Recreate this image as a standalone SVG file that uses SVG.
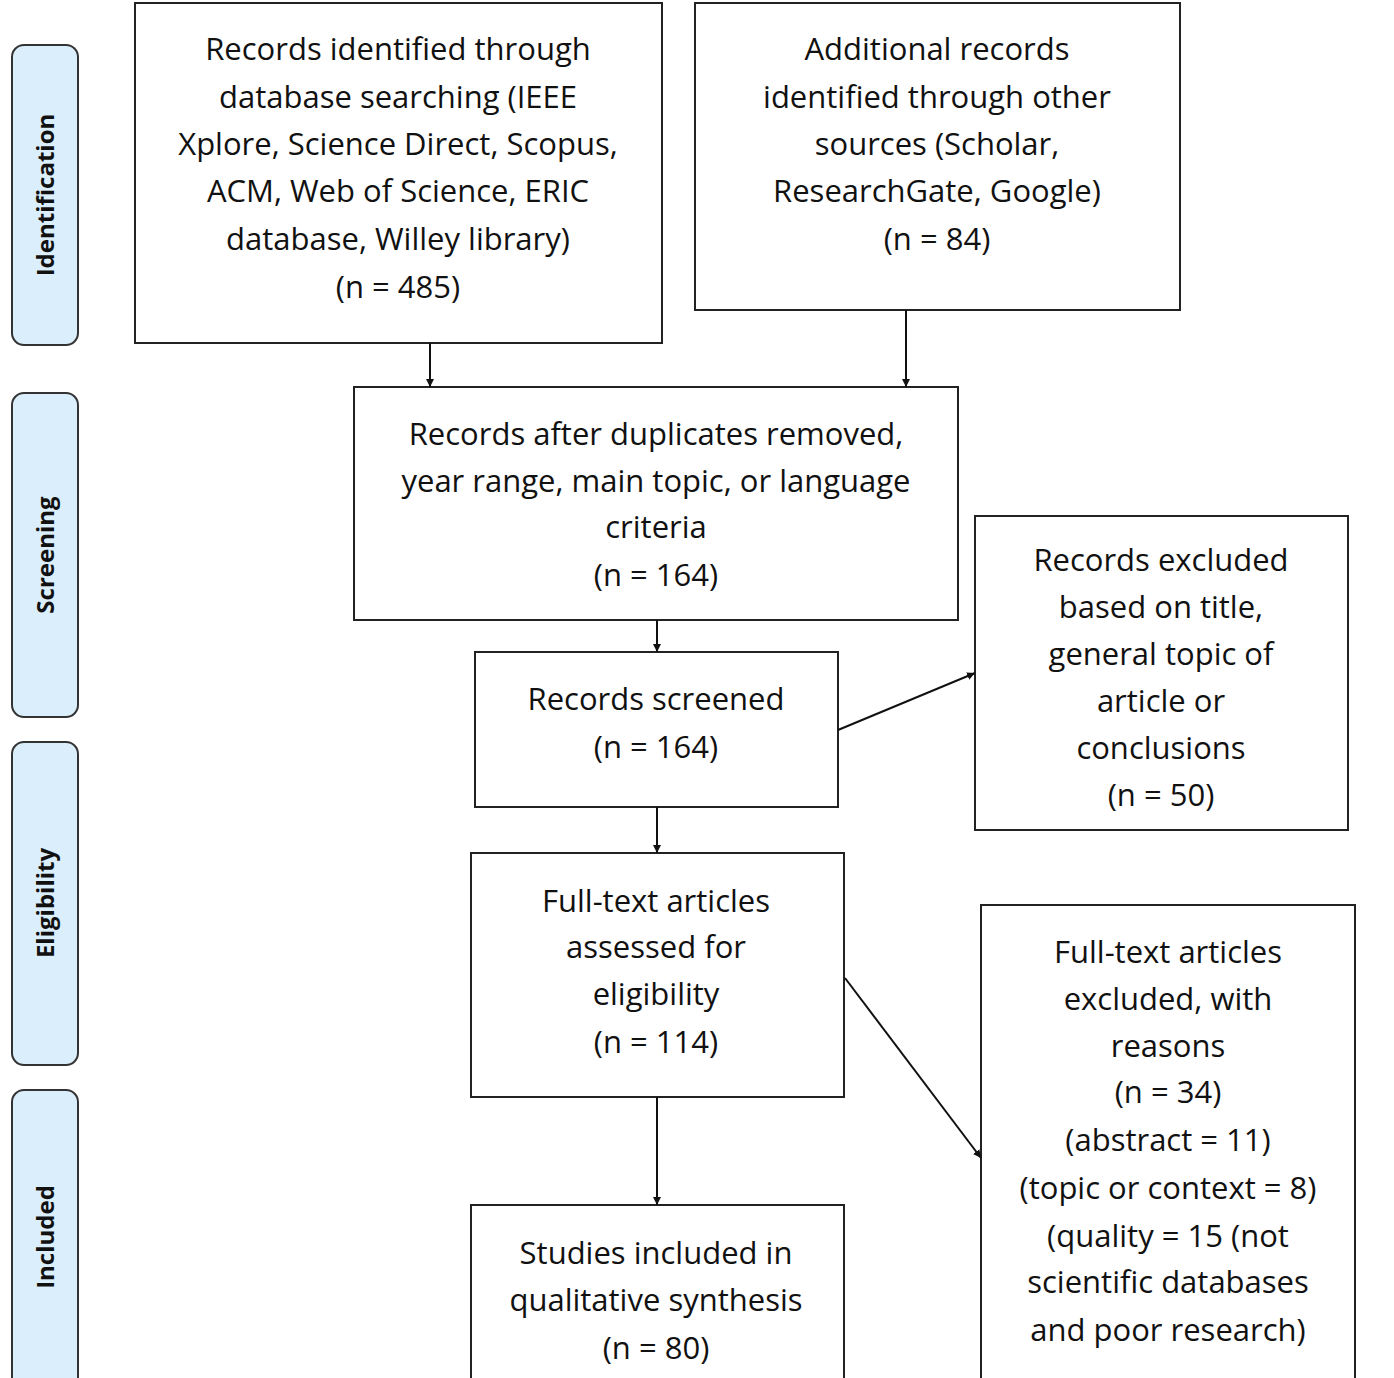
<svg xmlns="http://www.w3.org/2000/svg" width="1394" height="1378" viewBox="0 0 1394 1378">
<defs>
<style>
.b{fill:#fff;stroke:#222;stroke-width:2}
.s{fill:#dbeefb;stroke:#333;stroke-width:2}
.t{font-family:"Open Sans",sans-serif;font-size:31px;fill:#111;text-anchor:middle}
.st{font-family:"Open Sans",sans-serif;font-size:24px;font-weight:bold;fill:#111;text-anchor:middle}
.c{stroke:#111;stroke-width:2;fill:none;marker-end:url(#a)}
</style>
<marker id="a" viewBox="0 0 10 10" refX="10" refY="5" markerWidth="8" markerHeight="8" orient="auto" markerUnits="userSpaceOnUse"><path d="M0,0L10,5L0,10z" fill="#111"/></marker>
</defs>
<rect width="1394" height="1378" fill="#fff"/>
<g id="stages">
<rect class="s" x="12" y="45" width="66" height="300" rx="12"/>
<text class="st" transform="translate(54,195) rotate(-90)">Identification</text>
<rect class="s" x="12" y="393" width="66" height="324" rx="12"/>
<text class="st" transform="translate(54,555) rotate(-90)">Screening</text>
<rect class="s" x="12" y="742" width="66" height="323" rx="12"/>
<text class="st" transform="translate(54,903) rotate(-90)">Eligibility</text>
<rect class="s" x="12" y="1090" width="66" height="310" rx="12"/>
<text class="st" transform="translate(54,1237) rotate(-90)">Included</text>
</g>
<g id="n1"><rect class="b" x="135" y="3" width="527" height="340"/>
<text class="t"><tspan x="398" y="60">Records identified through</tspan><tspan x="398" y="108">database searching (IEEE</tspan><tspan x="398" y="155">Xplore, Science Direct, Scopus,</tspan><tspan x="398" y="202">ACM, Web of Science, ERIC</tspan><tspan x="398" y="250">database, Willey library)</tspan><tspan x="398" y="298">(n = 485)</tspan></text></g>
<g id="n2"><rect class="b" x="695" y="3" width="485" height="307"/>
<text class="t"><tspan x="937" y="60">Additional records</tspan><tspan x="937" y="108">identified through other</tspan><tspan x="937" y="155">sources (Scholar,</tspan><tspan x="937" y="202">ResearchGate, Google)</tspan><tspan x="937" y="250">(n = 84)</tspan></text></g>
<g id="n3"><rect class="b" x="354" y="387" width="604" height="233"/>
<text class="t"><tspan x="656" y="445">Records after duplicates removed,</tspan><tspan x="656" y="492">year range, main topic, or language</tspan><tspan x="656" y="538">criteria</tspan><tspan x="656" y="586">(n = 164)</tspan></text></g>
<g id="n4"><rect class="b" x="475" y="652" width="363" height="155"/>
<text class="t"><tspan x="656" y="710">Records screened</tspan><tspan x="656" y="758">(n = 164)</tspan></text></g>
<g id="n5"><rect class="b" x="975" y="516" width="373" height="314"/>
<text class="t"><tspan x="1161" y="571">Records excluded</tspan><tspan x="1161" y="618">based on title,</tspan><tspan x="1161" y="665">general topic of</tspan><tspan x="1161" y="712">article or</tspan><tspan x="1161" y="759">conclusions</tspan><tspan x="1161" y="806">(n = 50)</tspan></text></g>
<g id="n6"><rect class="b" x="471" y="853" width="373" height="244"/>
<text class="t"><tspan x="656" y="912">Full-text articles</tspan><tspan x="656" y="958">assessed for</tspan><tspan x="656" y="1005">eligibility</tspan><tspan x="656" y="1053">(n = 114)</tspan></text></g>
<g id="n7"><rect class="b" x="981" y="905" width="374" height="490"/>
<text class="t"><tspan x="1168" y="963">Full-text articles</tspan><tspan x="1168" y="1010">excluded, with</tspan><tspan x="1168" y="1057">reasons</tspan><tspan x="1168" y="1103">(n = 34)</tspan><tspan x="1168" y="1151">(abstract = 11)</tspan><tspan x="1168" y="1199">(topic or context = 8)</tspan><tspan x="1168" y="1247">(quality = 15 (not</tspan><tspan x="1168" y="1293">scientific databases</tspan><tspan x="1168" y="1341">and poor research)</tspan></text></g>
<g id="n8"><rect class="b" x="471" y="1205" width="373" height="190"/>
<text class="t"><tspan x="656" y="1264">Studies included in</tspan><tspan x="656" y="1311">qualitative synthesis</tspan><tspan x="656" y="1359">(n = 80)</tspan></text></g>
<g id="connectors">
<line class="c" x1="430" y1="343" x2="430" y2="387"/>
<line class="c" x1="906" y1="310" x2="906" y2="387"/>
<line class="c" x1="657" y1="620" x2="657" y2="652"/>
<line class="c" x1="838" y1="730" x2="975" y2="673"/>
<line class="c" x1="657" y1="807" x2="657" y2="853"/>
<line class="c" x1="845" y1="978" x2="981" y2="1158"/>
<line class="c" x1="657" y1="1097" x2="657" y2="1205"/>
</g>
</svg>
